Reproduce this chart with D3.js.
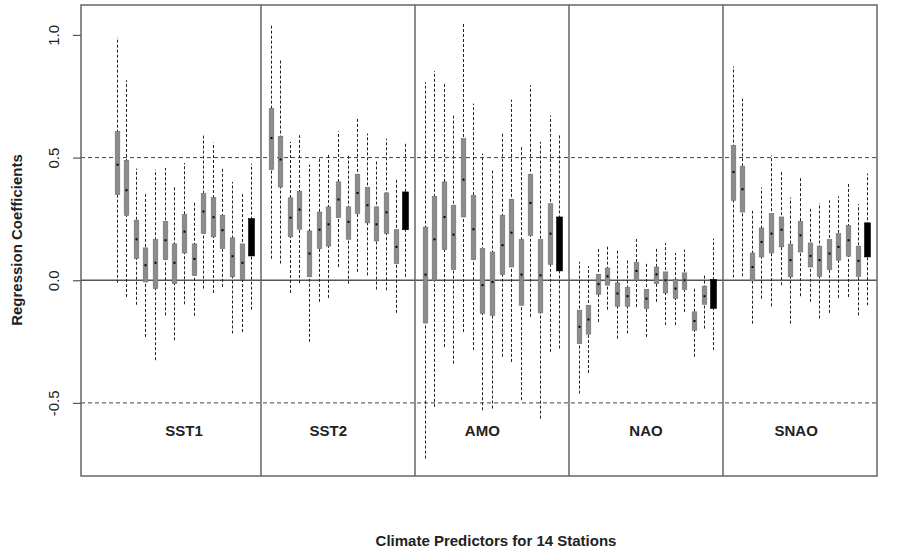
<!DOCTYPE html>
<html>
<head>
	<meta charset="UTF-8">
	<title>Regression Coefficients</title>
	<style>
		body { margin: 0; background: #fff; }
		svg text { font-family: "Liberation Sans", Arial, sans-serif; }
	</style>
</head>
<body>
<div class="boxplot"></div>

<script src="https://d3js.org/d3.v7.min.js"></script>
<script>

	// each box: [lower whisker, q1, median, q3, upper whisker]; 14 stations + all (last, black)
	var groups = ["SST1", "SST2", "AMO", "NAO", "SNAO"];
	var labelPos = [8, 23, 39, 56, 71.6];
	var yTicks = [-0.5, 0.0, 0.5, 1.0];

	var sst1 = [
		[-0.01, 0.349, 0.471, 0.607, 0.99],
		[-0.068, 0.265, 0.367, 0.489, 0.815],
		[-0.10, 0.088, 0.167, 0.245, 0.455],
		[-0.231, -0.007, 0.061, 0.132, 0.353],
		[-0.326, -0.034, 0.071, 0.166, 0.451],
		[-0.143, 0.084, 0.163, 0.240, 0.458],
		[-0.245, -0.014, 0.071, 0.148, 0.380],
		[-0.098, 0.111, 0.198, 0.268, 0.478],
		[-0.145, 0.019, 0.087, 0.148, 0.322],
		[-0.034, 0.190, 0.280, 0.353, 0.591],
		[-0.052, 0.177, 0.257, 0.337, 0.561],
		[-0.027, 0.129, 0.204, 0.265, 0.454],
		[-0.217, 0.014, 0.098, 0.173, 0.401],
		[-0.211, 0.003, 0.071, 0.148, 0.356],
		[-0.12, 0.099, 0.18, 0.251, 0.475]
	];
	var sst2 = [
		[0.088, 0.451, 0.58, 0.70, 1.043],
		[0.068, 0.380, 0.492, 0.587, 0.899],
		[-0.052, 0.177, 0.255, 0.336, 0.564],
		[-0.011, 0.208, 0.288, 0.363, 0.591],
		[-0.251, 0.014, 0.109, 0.201, 0.471],
		[-0.088, 0.129, 0.206, 0.278, 0.50],
		[-0.072, 0.139, 0.228, 0.299, 0.519],
		[0.054, 0.255, 0.329, 0.401, 0.607],
		[-0.014, 0.167, 0.238, 0.299, 0.509],
		[0.034, 0.272, 0.356, 0.432, 0.663],
		[0.020, 0.234, 0.306, 0.379, 0.598],
		[-0.038, 0.160, 0.228, 0.299, 0.489],
		[-0.041, 0.190, 0.277, 0.356, 0.577],
		[-0.133, 0.068, 0.136, 0.206, 0.410],
		[0.014, 0.206, 0.285, 0.36, 0.564]
	];
	var amo = [
		[-0.727, -0.174, 0.023, 0.217, 0.808],
		[-0.516, 0.0, 0.167, 0.342, 0.853],
		[-0.272, 0.125, 0.258, 0.401, 0.808],
		[-0.34, 0.043, 0.186, 0.306, 0.672],
		[-0.211, 0.258, 0.410, 0.577, 1.046],
		[-0.285, 0.084, 0.208, 0.346, 0.720],
		[-0.530, -0.136, -0.020, 0.129, 0.516],
		[-0.523, -0.143, -0.007, 0.115, 0.451],
		[-0.312, 0.023, 0.143, 0.265, 0.598],
		[-0.333, 0.054, 0.194, 0.330, 0.736],
		[-0.489, -0.102, 0.023, 0.166, 0.550],
		[-0.149, 0.183, 0.315, 0.432, 0.795],
		[-0.564, -0.133, 0.020, 0.166, 0.564],
		[-0.292, 0.064, 0.190, 0.312, 0.672],
		[-0.278, 0.038, 0.15, 0.258, 0.591]
	];
	var nao = [
		[-0.462, -0.258, -0.190, -0.122, 0.075],
		[-0.378, -0.220, -0.160, -0.102, 0.057],
		[-0.170, -0.057, -0.016, 0.024, 0.129],
		[-0.12, -0.020, 0.016, 0.050, 0.143],
		[-0.238, -0.106, -0.054, -0.011, 0.125],
		[-0.217, -0.106, -0.065, -0.030, 0.084],
		[-0.109, 0.0, 0.038, 0.072, 0.174],
		[-0.231, -0.115, -0.075, -0.037, 0.075],
		[-0.088, -0.014, 0.024, 0.054, 0.136],
		[-0.183, -0.052, 0.0, 0.034, 0.152],
		[-0.183, -0.075, -0.034, 0.003, 0.111],
		[-0.129, -0.038, 0.0, 0.030, 0.125],
		[-0.312, -0.204, -0.166, -0.129, -0.030],
		[-0.197, -0.098, -0.065, -0.024, 0.027],
		[-0.285, -0.115, -0.054, 0.003, 0.170]
	];
	var snao = [
		[0.011, 0.326, 0.441, 0.550, 0.872],
		[0.016, 0.278, 0.371, 0.465, 0.740],
		[-0.177, -0.003, 0.054, 0.111, 0.283],
		[-0.075, 0.095, 0.156, 0.213, 0.378],
		[-0.106, 0.111, 0.190, 0.272, 0.509],
		[-0.020, 0.136, 0.206, 0.258, 0.441],
		[-0.177, 0.014, 0.082, 0.147, 0.337],
		[-0.065, 0.115, 0.183, 0.240, 0.421],
		[-0.088, 0.054, 0.099, 0.152, 0.299],
		[-0.156, 0.016, 0.082, 0.139, 0.315],
		[-0.133, 0.043, 0.109, 0.166, 0.326],
		[-0.072, 0.082, 0.136, 0.190, 0.342],
		[-0.068, 0.098, 0.163, 0.224, 0.397],
		[-0.143, 0.016, 0.079, 0.139, 0.310],
		[-0.102, 0.095, 0.16, 0.234, 0.435]
	];
	var allStats = [sst1, sst2, amo, nao, snao];

	var w = 901;
	var h = 550;
	var pLeft = 81, pRight = 877, pTop = 5, pBottom = 476;

	var SVG = d3.select("div.boxplot").append("svg")
				.attr("width", w)
				.attr("height", h);

	/* box i of group g sits at position g*16 + i + 1, dividers at 16, 32, 48, 64 */
	var xSCALE = d3.scaleLinear()
					.domain([-2.7, 80])
					.range([pLeft, pRight]);

	var ySCALE = d3.scaleLinear()
					.domain([-0.798, 1.122])
					.range([pBottom, pTop]);

	var boxes = [];
	allStats.forEach(function(g, gi){
		g.forEach(function(s, i){
			boxes.push({ pos: gi*16 + i + 1, s: s, all: i == g.length - 1 });
		});
	});

	/* reference lines */
	SVG.append("line")
		.attr("x1", pLeft).attr("x2", pRight)
		.attr("y1", ySCALE(0)).attr("y2", ySCALE(0))
		.attr("stroke", "#555").attr("stroke-width", 1.3);
	[0.5, -0.5].forEach(function(v){
		SVG.append("line")
			.attr("x1", pLeft).attr("x2", pRight)
			.attr("y1", ySCALE(v)).attr("y2", ySCALE(v))
			.attr("stroke", "#444").attr("stroke-width", 1)
			.attr("stroke-dasharray", "4,3");
	});

	/* group dividers */
	[16, 32, 48, 64].forEach(function(p){
		SVG.append("line")
			.attr("x1", xSCALE(p)).attr("x2", xSCALE(p))
			.attr("y1", pTop).attr("y2", pBottom)
			.attr("stroke", "#666").attr("stroke-width", 1.5);
	});

	/* whiskers */
	SVG.selectAll("line.whisker")
		.data(boxes)
		.enter()
		.append("line")
		.attr("class", "whisker")
		.attr("x1", function(d){ return Math.round(xSCALE(d.pos)) + 0.5; })
		.attr("x2", function(d){ return Math.round(xSCALE(d.pos)) + 0.5; })
		.attr("y1", function(d){ return ySCALE(d.s[0]); })
		.attr("y2", function(d){ return ySCALE(d.s[4]); })
		.attr("stroke", "#222")
		.attr("stroke-width", 1)
		.attr("stroke-dasharray", "3,2");

	/* boxes */
	SVG.selectAll("rect.box")
		.data(boxes)
		.enter()
		.append("rect")
		.attr("class", "box")
		.attr("x", function(d){ return Math.round(xSCALE(d.pos)) + 0.5 - (d.all ? 3 : 2.3); })
		.attr("width", function(d){ return d.all ? 6 : 4.6; })
		.attr("y", function(d){ return ySCALE(d.s[3]); })
		.attr("height", function(d){ return ySCALE(d.s[1]) - ySCALE(d.s[3]); })
		.attr("fill", function(d){ return d.all ? "#000" : "#8c8c8c"; })
		.attr("stroke", function(d){ return d.all ? "#000" : "#6e6e6e"; })
		.attr("stroke-width", 0.6);

	/* medians */
	SVG.selectAll("rect.median")
		.data(boxes)
		.enter()
		.append("rect")
		.attr("class", "median")
		.attr("x", function(d){ return Math.round(xSCALE(d.pos)) - 0.5; })
		.attr("y", function(d){ return ySCALE(d.s[2]) - 1; })
		.attr("width", 2)
		.attr("height", 2)
		.attr("fill", "#000");

	/* group labels */
	SVG.selectAll("text.group")
		.data(groups)
		.enter()
		.append("text")
		.attr("class", "group")
		.text(function(d){ return d; })
		.attr("x", function(d, i){ return xSCALE(labelPos[i]); })
		.attr("y", 436)
		.attr("text-anchor", "middle")
		.attr("font-size", "15px")
		.attr("font-weight", "bold")
		.attr("fill", "#222");

	/* plot frame */
	SVG.append("rect")
		.attr("x", pLeft).attr("y", pTop)
		.attr("width", pRight - pLeft).attr("height", pBottom - pTop)
		.attr("fill", "none")
		.attr("stroke", "#666")
		.attr("stroke-width", 1.5);

	/* Y axis (plain hyphen for negatives, like the original) */
	var yAxis = d3.axisLeft(ySCALE)
				  .tickValues(yTicks)
				  .tickFormat(function(d){ return d.toFixed(1); })
				  .tickSize(8);
	var gy = SVG.append("g")
		  .attr("transform", "translate(" + pLeft + ",0)")
		  .call(yAxis);
	gy.select(".domain").remove();
	gy.selectAll(".tick line").attr("stroke", "#555").attr("stroke-width", 1.2);
	gy.selectAll(".tick text")
		.attr("font-size", "15px")
		.attr("fill", "#222")
		.attr("font-family", "Liberation Sans, Arial, sans-serif")
		.attr("text-anchor", "middle")
		.attr("dy", null)
		.attr("x", null)
		.attr("transform", "translate(-26,0) rotate(-90)")
		.attr("y", 0)
		.attr("dominant-baseline", "middle");

	/* axis titles */
	SVG.append("text")
		.text("Regression Coefficients")
		.attr("transform", "translate(18,240) rotate(-90)")
		.attr("text-anchor", "middle")
		.attr("dominant-baseline", "middle")
		.attr("font-size", "15px")
		.attr("font-weight", "bold")
		.attr("fill", "#222");

	SVG.append("text")
		.text("Climate Predictors for 14 Stations")
		.attr("x", 496)
		.attr("y", 546)
		.attr("text-anchor", "middle")
		.attr("font-size", "15px")
		.attr("font-weight", "bold")
		.attr("fill", "#222");

</script>
</body>
</html>
